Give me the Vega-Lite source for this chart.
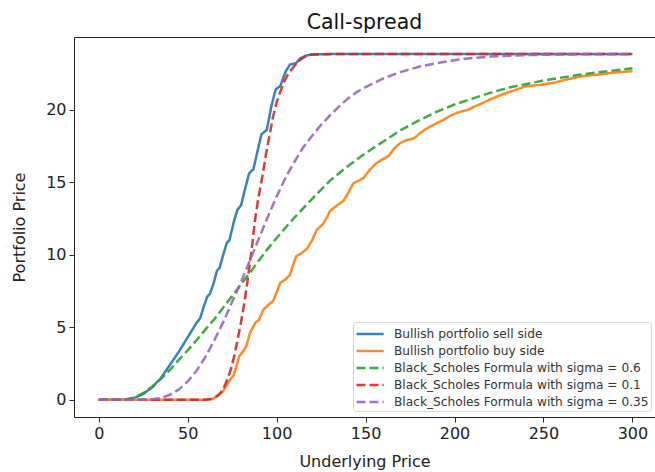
{
  "$schema": "https://vega.github.io/schema/vega-lite/v6.json",
  "width": 581,
  "height": 380,
  "autosize": {"type": "none"},
  "padding": {"left": 74, "top": 37, "right": 0, "bottom": 55},
  "background": "white",
  "title": {"text": "Call-spread", "font": "DejaVu Sans", "fontSize": 20.5, "fontWeight": "normal", "color": "#111", "anchor": "middle", "baseline": "bottom", "offset": 5, "dy": 21},
  "config": {
    "view": {"stroke": null},
    "axis": {
      "grid": false,
      "domainColor": "#222",
      "domainWidth": 1,
      "tickColor": "#222",
      "tickSize": 5,
      "labelFont": "DejaVu Sans",
      "labelFontSize": 16,
      "labelColor": "#222",
      "labelPadding": 3,
      "titleFont": "DejaVu Sans",
      "titleFontSize": 16,
      "titleFontWeight": "normal",
      "titleColor": "#222"
    },
    "legend": {
      "labelFont": "DejaVu Sans",
      "labelFontSize": 12.2,
      "labelColor": "#333",
      "labelLimit": 400,
      "symbolType": "M-1,0H2.2",
      "symbolSize": 289,
      "symbolStrokeWidth": 2.5,
      "symbolFillColor": "transparent",
      "labelOffset": 19,
      "rowPadding": 0,
      "padding": 2,
      "strokeColor": "#d6d6d6",
      "fillColor": "white",
      "cornerRadius": 3
    }
  },
  "data": {"values": [
    {"s": "Bullish portfolio sell side", "x": 0, "y": 0},
    {"s": "Bullish portfolio sell side", "x": 10, "y": 0},
    {"s": "Bullish portfolio sell side", "x": 15, "y": 0.02},
    {"s": "Bullish portfolio sell side", "x": 20, "y": 0.12},
    {"s": "Bullish portfolio sell side", "x": 25, "y": 0.4},
    {"s": "Bullish portfolio sell side", "x": 30, "y": 0.85},
    {"s": "Bullish portfolio sell side", "x": 35, "y": 1.5},
    {"s": "Bullish portfolio sell side", "x": 40, "y": 2.4},
    {"s": "Bullish portfolio sell side", "x": 45, "y": 3.3},
    {"s": "Bullish portfolio sell side", "x": 48, "y": 3.9},
    {"s": "Bullish portfolio sell side", "x": 50, "y": 4.3},
    {"s": "Bullish portfolio sell side", "x": 53, "y": 4.9},
    {"s": "Bullish portfolio sell side", "x": 55, "y": 5.3},
    {"s": "Bullish portfolio sell side", "x": 57, "y": 5.6},
    {"s": "Bullish portfolio sell side", "x": 59, "y": 6.4},
    {"s": "Bullish portfolio sell side", "x": 61, "y": 7.1},
    {"s": "Bullish portfolio sell side", "x": 62.5, "y": 7.3},
    {"s": "Bullish portfolio sell side", "x": 64.5, "y": 8.0},
    {"s": "Bullish portfolio sell side", "x": 66.5, "y": 8.9},
    {"s": "Bullish portfolio sell side", "x": 68, "y": 9.1},
    {"s": "Bullish portfolio sell side", "x": 70, "y": 10.0},
    {"s": "Bullish portfolio sell side", "x": 72, "y": 10.8},
    {"s": "Bullish portfolio sell side", "x": 73.5, "y": 11.0},
    {"s": "Bullish portfolio sell side", "x": 76, "y": 12.3},
    {"s": "Bullish portfolio sell side", "x": 78, "y": 13.1},
    {"s": "Bullish portfolio sell side", "x": 80, "y": 13.4},
    {"s": "Bullish portfolio sell side", "x": 82, "y": 14.4},
    {"s": "Bullish portfolio sell side", "x": 84.5, "y": 15.6},
    {"s": "Bullish portfolio sell side", "x": 87, "y": 15.9},
    {"s": "Bullish portfolio sell side", "x": 89, "y": 17.0},
    {"s": "Bullish portfolio sell side", "x": 91.5, "y": 18.3},
    {"s": "Bullish portfolio sell side", "x": 94.5, "y": 18.6},
    {"s": "Bullish portfolio sell side", "x": 97, "y": 20.2},
    {"s": "Bullish portfolio sell side", "x": 99.5, "y": 21.4},
    {"s": "Bullish portfolio sell side", "x": 102, "y": 21.6},
    {"s": "Bullish portfolio sell side", "x": 105, "y": 22.6},
    {"s": "Bullish portfolio sell side", "x": 107.5, "y": 23.1},
    {"s": "Bullish portfolio sell side", "x": 111, "y": 23.2},
    {"s": "Bullish portfolio sell side", "x": 113, "y": 23.5},
    {"s": "Bullish portfolio sell side", "x": 116, "y": 23.7},
    {"s": "Bullish portfolio sell side", "x": 120, "y": 23.8},
    {"s": "Bullish portfolio sell side", "x": 130, "y": 23.82},
    {"s": "Bullish portfolio sell side", "x": 300, "y": 23.82},

    {"s": "Bullish portfolio buy side", "x": 0, "y": 0},
    {"s": "Bullish portfolio buy side", "x": 60, "y": 0},
    {"s": "Bullish portfolio buy side", "x": 64, "y": 0.05},
    {"s": "Bullish portfolio buy side", "x": 67, "y": 0.3},
    {"s": "Bullish portfolio buy side", "x": 70, "y": 0.6},
    {"s": "Bullish portfolio buy side", "x": 72, "y": 1.0},
    {"s": "Bullish portfolio buy side", "x": 74, "y": 1.4},
    {"s": "Bullish portfolio buy side", "x": 76, "y": 1.7},
    {"s": "Bullish portfolio buy side", "x": 79, "y": 3.0},
    {"s": "Bullish portfolio buy side", "x": 81, "y": 3.3},
    {"s": "Bullish portfolio buy side", "x": 83, "y": 3.7},
    {"s": "Bullish portfolio buy side", "x": 85, "y": 4.6},
    {"s": "Bullish portfolio buy side", "x": 88, "y": 5.3},
    {"s": "Bullish portfolio buy side", "x": 90, "y": 5.5},
    {"s": "Bullish portfolio buy side", "x": 92.5, "y": 6.2},
    {"s": "Bullish portfolio buy side", "x": 95, "y": 6.5},
    {"s": "Bullish portfolio buy side", "x": 98, "y": 6.8},
    {"s": "Bullish portfolio buy side", "x": 100, "y": 7.4},
    {"s": "Bullish portfolio buy side", "x": 102, "y": 8.05},
    {"s": "Bullish portfolio buy side", "x": 105, "y": 8.3},
    {"s": "Bullish portfolio buy side", "x": 107.5, "y": 8.6},
    {"s": "Bullish portfolio buy side", "x": 109, "y": 9.2},
    {"s": "Bullish portfolio buy side", "x": 111, "y": 9.9},
    {"s": "Bullish portfolio buy side", "x": 114, "y": 10.1},
    {"s": "Bullish portfolio buy side", "x": 117, "y": 10.4},
    {"s": "Bullish portfolio buy side", "x": 120, "y": 11.0},
    {"s": "Bullish portfolio buy side", "x": 122.5, "y": 11.7},
    {"s": "Bullish portfolio buy side", "x": 126, "y": 12.1},
    {"s": "Bullish portfolio buy side", "x": 128, "y": 12.5},
    {"s": "Bullish portfolio buy side", "x": 130, "y": 13.0},
    {"s": "Bullish portfolio buy side", "x": 134, "y": 13.4},
    {"s": "Bullish portfolio buy side", "x": 137.5, "y": 13.7},
    {"s": "Bullish portfolio buy side", "x": 140, "y": 14.2},
    {"s": "Bullish portfolio buy side", "x": 143, "y": 14.9},
    {"s": "Bullish portfolio buy side", "x": 146, "y": 15.1},
    {"s": "Bullish portfolio buy side", "x": 149, "y": 15.3},
    {"s": "Bullish portfolio buy side", "x": 152, "y": 15.8},
    {"s": "Bullish portfolio buy side", "x": 156, "y": 16.3},
    {"s": "Bullish portfolio buy side", "x": 160, "y": 16.6},
    {"s": "Bullish portfolio buy side", "x": 163, "y": 16.8},
    {"s": "Bullish portfolio buy side", "x": 166, "y": 17.3},
    {"s": "Bullish portfolio buy side", "x": 169.5, "y": 17.7},
    {"s": "Bullish portfolio buy side", "x": 173, "y": 17.9},
    {"s": "Bullish portfolio buy side", "x": 177, "y": 18.0},
    {"s": "Bullish portfolio buy side", "x": 181, "y": 18.4},
    {"s": "Bullish portfolio buy side", "x": 184.5, "y": 18.7},
    {"s": "Bullish portfolio buy side", "x": 189, "y": 19.0},
    {"s": "Bullish portfolio buy side", "x": 194, "y": 19.3},
    {"s": "Bullish portfolio buy side", "x": 198, "y": 19.6},
    {"s": "Bullish portfolio buy side", "x": 202, "y": 19.8},
    {"s": "Bullish portfolio buy side", "x": 208, "y": 20.0},
    {"s": "Bullish portfolio buy side", "x": 211, "y": 20.2},
    {"s": "Bullish portfolio buy side", "x": 215, "y": 20.4},
    {"s": "Bullish portfolio buy side", "x": 220, "y": 20.7},
    {"s": "Bullish portfolio buy side", "x": 226, "y": 21.0},
    {"s": "Bullish portfolio buy side", "x": 233, "y": 21.3},
    {"s": "Bullish portfolio buy side", "x": 240, "y": 21.6},
    {"s": "Bullish portfolio buy side", "x": 248, "y": 21.7},
    {"s": "Bullish portfolio buy side", "x": 256, "y": 21.85},
    {"s": "Bullish portfolio buy side", "x": 264, "y": 22.1},
    {"s": "Bullish portfolio buy side", "x": 272, "y": 22.3},
    {"s": "Bullish portfolio buy side", "x": 280, "y": 22.4},
    {"s": "Bullish portfolio buy side", "x": 290, "y": 22.55},
    {"s": "Bullish portfolio buy side", "x": 300, "y": 22.65},

    {"s": "Black_Scholes Formula with sigma = 0.6", "x": 0, "y": 0},
    {"s": "Black_Scholes Formula with sigma = 0.6", "x": 15, "y": 0.02},
    {"s": "Black_Scholes Formula with sigma = 0.6", "x": 20, "y": 0.12},
    {"s": "Black_Scholes Formula with sigma = 0.6", "x": 25, "y": 0.45},
    {"s": "Black_Scholes Formula with sigma = 0.6", "x": 30, "y": 0.9},
    {"s": "Black_Scholes Formula with sigma = 0.6", "x": 35, "y": 1.45},
    {"s": "Black_Scholes Formula with sigma = 0.6", "x": 40, "y": 2.05},
    {"s": "Black_Scholes Formula with sigma = 0.6", "x": 45, "y": 2.75},
    {"s": "Black_Scholes Formula with sigma = 0.6", "x": 50, "y": 3.4},
    {"s": "Black_Scholes Formula with sigma = 0.6", "x": 55, "y": 4.1},
    {"s": "Black_Scholes Formula with sigma = 0.6", "x": 60, "y": 4.85},
    {"s": "Black_Scholes Formula with sigma = 0.6", "x": 65, "y": 5.55},
    {"s": "Black_Scholes Formula with sigma = 0.6", "x": 70, "y": 6.35},
    {"s": "Black_Scholes Formula with sigma = 0.6", "x": 75, "y": 7.15},
    {"s": "Black_Scholes Formula with sigma = 0.6", "x": 80, "y": 7.95},
    {"s": "Black_Scholes Formula with sigma = 0.6", "x": 85, "y": 8.75},
    {"s": "Black_Scholes Formula with sigma = 0.6", "x": 90, "y": 9.6},
    {"s": "Black_Scholes Formula with sigma = 0.6", "x": 95, "y": 10.4},
    {"s": "Black_Scholes Formula with sigma = 0.6", "x": 100, "y": 11.15},
    {"s": "Black_Scholes Formula with sigma = 0.6", "x": 105, "y": 11.85},
    {"s": "Black_Scholes Formula with sigma = 0.6", "x": 110, "y": 12.55},
    {"s": "Black_Scholes Formula with sigma = 0.6", "x": 115, "y": 13.2},
    {"s": "Black_Scholes Formula with sigma = 0.6", "x": 120, "y": 13.85},
    {"s": "Black_Scholes Formula with sigma = 0.6", "x": 130, "y": 15.1},
    {"s": "Black_Scholes Formula with sigma = 0.6", "x": 140, "y": 16.1},
    {"s": "Black_Scholes Formula with sigma = 0.6", "x": 150, "y": 17.0},
    {"s": "Black_Scholes Formula with sigma = 0.6", "x": 160, "y": 17.8},
    {"s": "Black_Scholes Formula with sigma = 0.6", "x": 170, "y": 18.6},
    {"s": "Black_Scholes Formula with sigma = 0.6", "x": 180, "y": 19.25},
    {"s": "Black_Scholes Formula with sigma = 0.6", "x": 190, "y": 19.85},
    {"s": "Black_Scholes Formula with sigma = 0.6", "x": 200, "y": 20.35},
    {"s": "Black_Scholes Formula with sigma = 0.6", "x": 210, "y": 20.75},
    {"s": "Black_Scholes Formula with sigma = 0.6", "x": 220, "y": 21.15},
    {"s": "Black_Scholes Formula with sigma = 0.6", "x": 230, "y": 21.5},
    {"s": "Black_Scholes Formula with sigma = 0.6", "x": 240, "y": 21.75},
    {"s": "Black_Scholes Formula with sigma = 0.6", "x": 250, "y": 22.0},
    {"s": "Black_Scholes Formula with sigma = 0.6", "x": 260, "y": 22.2},
    {"s": "Black_Scholes Formula with sigma = 0.6", "x": 270, "y": 22.4},
    {"s": "Black_Scholes Formula with sigma = 0.6", "x": 280, "y": 22.55},
    {"s": "Black_Scholes Formula with sigma = 0.6", "x": 290, "y": 22.7},
    {"s": "Black_Scholes Formula with sigma = 0.6", "x": 300, "y": 22.85},

    {"s": "Black_Scholes Formula with sigma = 0.1", "x": 0, "y": 0},
    {"s": "Black_Scholes Formula with sigma = 0.1", "x": 60, "y": 0},
    {"s": "Black_Scholes Formula with sigma = 0.1", "x": 63, "y": 0.05},
    {"s": "Black_Scholes Formula with sigma = 0.1", "x": 66, "y": 0.2},
    {"s": "Black_Scholes Formula with sigma = 0.1", "x": 68, "y": 0.4},
    {"s": "Black_Scholes Formula with sigma = 0.1", "x": 70, "y": 0.75},
    {"s": "Black_Scholes Formula with sigma = 0.1", "x": 72, "y": 1.3},
    {"s": "Black_Scholes Formula with sigma = 0.1", "x": 74, "y": 2.0},
    {"s": "Black_Scholes Formula with sigma = 0.1", "x": 76, "y": 2.9},
    {"s": "Black_Scholes Formula with sigma = 0.1", "x": 78, "y": 4.1},
    {"s": "Black_Scholes Formula with sigma = 0.1", "x": 80, "y": 5.35},
    {"s": "Black_Scholes Formula with sigma = 0.1", "x": 82, "y": 6.8},
    {"s": "Black_Scholes Formula with sigma = 0.1", "x": 84, "y": 8.5},
    {"s": "Black_Scholes Formula with sigma = 0.1", "x": 86, "y": 10.4},
    {"s": "Black_Scholes Formula with sigma = 0.1", "x": 88, "y": 12.5},
    {"s": "Black_Scholes Formula with sigma = 0.1", "x": 90, "y": 14.1},
    {"s": "Black_Scholes Formula with sigma = 0.1", "x": 92, "y": 15.4},
    {"s": "Black_Scholes Formula with sigma = 0.1", "x": 94, "y": 16.9},
    {"s": "Black_Scholes Formula with sigma = 0.1", "x": 96, "y": 18.2},
    {"s": "Black_Scholes Formula with sigma = 0.1", "x": 98, "y": 19.5},
    {"s": "Black_Scholes Formula with sigma = 0.1", "x": 100, "y": 20.5},
    {"s": "Black_Scholes Formula with sigma = 0.1", "x": 102, "y": 21.2},
    {"s": "Black_Scholes Formula with sigma = 0.1", "x": 104, "y": 21.85},
    {"s": "Black_Scholes Formula with sigma = 0.1", "x": 106, "y": 22.35},
    {"s": "Black_Scholes Formula with sigma = 0.1", "x": 108, "y": 22.7},
    {"s": "Black_Scholes Formula with sigma = 0.1", "x": 110, "y": 23.0},
    {"s": "Black_Scholes Formula with sigma = 0.1", "x": 113, "y": 23.4},
    {"s": "Black_Scholes Formula with sigma = 0.1", "x": 116, "y": 23.65},
    {"s": "Black_Scholes Formula with sigma = 0.1", "x": 119, "y": 23.78},
    {"s": "Black_Scholes Formula with sigma = 0.1", "x": 130, "y": 23.82},
    {"s": "Black_Scholes Formula with sigma = 0.1", "x": 300, "y": 23.82},

    {"s": "Black_Scholes Formula with sigma = 0.35", "x": 0, "y": 0},
    {"s": "Black_Scholes Formula with sigma = 0.35", "x": 25, "y": 0},
    {"s": "Black_Scholes Formula with sigma = 0.35", "x": 30, "y": 0.03},
    {"s": "Black_Scholes Formula with sigma = 0.35", "x": 35, "y": 0.12},
    {"s": "Black_Scholes Formula with sigma = 0.35", "x": 40, "y": 0.34},
    {"s": "Black_Scholes Formula with sigma = 0.35", "x": 45, "y": 0.7},
    {"s": "Black_Scholes Formula with sigma = 0.35", "x": 50, "y": 1.25},
    {"s": "Black_Scholes Formula with sigma = 0.35", "x": 55, "y": 2.0},
    {"s": "Black_Scholes Formula with sigma = 0.35", "x": 60, "y": 2.95},
    {"s": "Black_Scholes Formula with sigma = 0.35", "x": 65, "y": 4.1},
    {"s": "Black_Scholes Formula with sigma = 0.35", "x": 70, "y": 5.35},
    {"s": "Black_Scholes Formula with sigma = 0.35", "x": 75, "y": 6.75},
    {"s": "Black_Scholes Formula with sigma = 0.35", "x": 80, "y": 8.1},
    {"s": "Black_Scholes Formula with sigma = 0.35", "x": 85, "y": 9.6},
    {"s": "Black_Scholes Formula with sigma = 0.35", "x": 90, "y": 11.1},
    {"s": "Black_Scholes Formula with sigma = 0.35", "x": 95, "y": 12.6},
    {"s": "Black_Scholes Formula with sigma = 0.35", "x": 100, "y": 14.0},
    {"s": "Black_Scholes Formula with sigma = 0.35", "x": 105, "y": 15.3},
    {"s": "Black_Scholes Formula with sigma = 0.35", "x": 110, "y": 16.4},
    {"s": "Black_Scholes Formula with sigma = 0.35", "x": 115, "y": 17.4},
    {"s": "Black_Scholes Formula with sigma = 0.35", "x": 120, "y": 18.2},
    {"s": "Black_Scholes Formula with sigma = 0.35", "x": 125, "y": 18.95},
    {"s": "Black_Scholes Formula with sigma = 0.35", "x": 130, "y": 19.6},
    {"s": "Black_Scholes Formula with sigma = 0.35", "x": 135, "y": 20.2},
    {"s": "Black_Scholes Formula with sigma = 0.35", "x": 140, "y": 20.75},
    {"s": "Black_Scholes Formula with sigma = 0.35", "x": 145, "y": 21.2},
    {"s": "Black_Scholes Formula with sigma = 0.35", "x": 150, "y": 21.55},
    {"s": "Black_Scholes Formula with sigma = 0.35", "x": 160, "y": 22.15},
    {"s": "Black_Scholes Formula with sigma = 0.35", "x": 170, "y": 22.6},
    {"s": "Black_Scholes Formula with sigma = 0.35", "x": 180, "y": 22.95},
    {"s": "Black_Scholes Formula with sigma = 0.35", "x": 190, "y": 23.2},
    {"s": "Black_Scholes Formula with sigma = 0.35", "x": 200, "y": 23.4},
    {"s": "Black_Scholes Formula with sigma = 0.35", "x": 210, "y": 23.55},
    {"s": "Black_Scholes Formula with sigma = 0.35", "x": 220, "y": 23.65},
    {"s": "Black_Scholes Formula with sigma = 0.35", "x": 240, "y": 23.75},
    {"s": "Black_Scholes Formula with sigma = 0.35", "x": 260, "y": 23.8},
    {"s": "Black_Scholes Formula with sigma = 0.35", "x": 300, "y": 23.82}
  ]},
  "layer": [
    {
      "mark": {"type": "line", "strokeWidth": 2.5, "opacity": 0.9},
      "encoding": {
        "x": {"field": "x", "type": "quantitative",
              "scale": {"domain": [-13.9, 312.7], "nice": false, "zero": false},
              "axis": {"values": [0, 50, 100, 150, 200, 250, 300], "title": "Underlying Price", "titlePadding": 12}},
        "y": {"field": "y", "type": "quantitative",
              "scale": {"domain": [-1.19, 25.0], "nice": false, "zero": false},
              "axis": {"values": [0, 5, 10, 15, 20], "title": "Portfolio Price", "titlePadding": 18}},
        "color": {"field": "s", "type": "nominal",
                  "scale": {"domain": ["Bullish portfolio sell side", "Bullish portfolio buy side", "Black_Scholes Formula with sigma = 0.6", "Black_Scholes Formula with sigma = 0.1", "Black_Scholes Formula with sigma = 0.35"],
                            "range": ["#1f77b4", "#ff7f0e", "#2ca02c", "#d62728", "#9467bd"]},
                  "legend": {"title": null, "orient": "none", "legendX": 279, "legendY": 285}},
        "strokeDash": {"field": "s", "type": "nominal",
                  "scale": {"domain": ["Bullish portfolio sell side", "Bullish portfolio buy side", "Black_Scholes Formula with sigma = 0.6", "Black_Scholes Formula with sigma = 0.1", "Black_Scholes Formula with sigma = 0.35"],
                            "range": [[1, 0], [1, 0], [9, 4], [9, 4], [9, 4]]},
                  "legend": {"title": null, "orient": "none", "legendX": 279, "legendY": 285}}
      }
    },
    {
      "mark": {"type": "line", "opacity": 0},
      "encoding": {
        "x": {"field": "x", "type": "quantitative",
              "axis": {"orient": "top", "labels": false, "ticks": false, "title": null, "minExtent": 0, "maxExtent": 0}},
        "y": {"field": "y", "type": "quantitative"},
        "detail": {"field": "s", "type": "nominal"}
      }
    }
  ],
  "resolve": {"axis": {"x": "independent"}}
}
